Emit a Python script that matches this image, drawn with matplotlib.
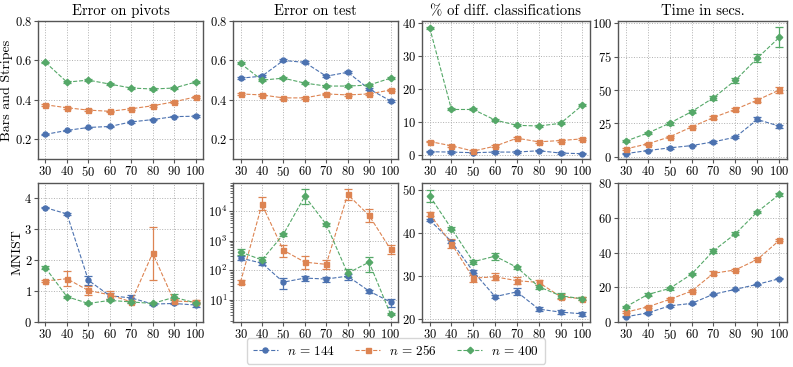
import matplotlib
matplotlib.use("Agg")
import matplotlib.pyplot as plt
from matplotlib.lines import Line2D
import numpy as np

plt.rcParams['font.family'] = 'serif'
plt.rcParams['font.serif'] = ['cmr10', 'DejaVu Serif']
plt.rcParams['mathtext.fontset'] = 'cm'
plt.rcParams['axes.formatter.use_mathtext'] = True
plt.rcParams['axes.unicode_minus'] = False

x = [30, 40, 50, 60, 70, 80, 90, 100]
labels = ["$n \\,=\\, 144$", "$n \\,=\\, 256$", "$n \\,=\\, 400$"]
colors = ["#4C72B0", "#DD8452", "#55A868"]
markers = ["o", "s", "D"]
col_titles = ["Error on pivots", "Error on test", "% of diff. classifications", "Time in secs."]
row_labels = ["Bars and Stripes", "MNIST"]

# ---- Bars and Stripes ----
bs_piv = [[0.225, 0.245, 0.26, 0.265, 0.288, 0.30, 0.315, 0.317],
          [0.375, 0.36, 0.348, 0.342, 0.355, 0.37, 0.39, 0.415],
          [0.59, 0.49, 0.50, 0.48, 0.46, 0.455, 0.46, 0.49]]
bs_piv_err = [[0.004] * 8, [0.004] * 8, [0.004] * 8]
bs_test = [[0.51, 0.52, 0.60, 0.59, 0.52, 0.54, 0.455, 0.395],
           [0.43, 0.425, 0.41, 0.41, 0.43, 0.425, 0.43, 0.45],
           [0.585, 0.50, 0.51, 0.485, 0.47, 0.47, 0.475, 0.51]]
bs_test_err = [[0.005] * 8, [0.005] * 8, [0.005] * 8]
bs_diff = [[1.0, 0.9, 0.7, 0.9, 0.9, 1.3, 0.6, 0.4],
           [4.1, 2.8, 1.2, 2.7, 5.1, 4.0, 4.4, 4.9],
           [38.6, 13.8, 13.8, 10.6, 9.0, 8.8, 9.6, 15.1]]
bs_diff_err = [[0.2] * 8, [0.3] * 8, [0.3] * 8]
bs_time = [[2.5, 4.8, 6.8, 8.5, 11.3, 14.8, 28.0, 23.0],
           [6.0, 9.8, 15.0, 22.4, 29.5, 35.6, 42.5, 50.0],
           [11.8, 17.8, 25.2, 33.8, 44.2, 57.3, 73.8, 89.3]]
bs_time_err = [[0.6, 0.6, 0.6, 0.6, 0.8, 0.8, 1.5, 1.2],
               [0.8, 0.8, 0.9, 1.0, 1.4, 1.2, 1.2, 2.0],
               [0.8, 0.8, 1.0, 1.2, 1.6, 2.0, 3.0, 7.5]]

# ---- MNIST ----
mn_piv = [[3.7, 3.5, 1.35, 0.85, 0.78, 0.58, 0.6, 0.55],
          [1.33, 1.4, 1.02, 0.88, 0.65, 2.23, 0.68, 0.65],
          [1.75, 0.82, 0.6, 0.7, 0.65, 0.6, 0.8, 0.62]]
mn_piv_err = [[0.02, 0.02, 0.15, 0.1, 0.1, 0.03, 0.03, 0.05],
              [0.03, 0.25, 0.15, 0.12, 0.04, 0.86, 0.05, 0.05],
              [0.05, 0.03, 0.03, 0.03, 0.03, 0.03, 0.1, 0.03]]
mn_test = [[260, 176, 40, 55, 51, 64, 20, 8.5],
           [40, 17000, 480, 190, 160, 37000, 7200, 520],
           [420, 225, 1650, 32000, 3600, 80, 190, 3.3]]
mn_test_lo = [[40, 20, 16, 12, 10, 18, 2.5, 2.5],
              [6, 6000, 200, 80, 45, 13000, 3000, 170],
              [90, 40, 250, 14000, 400, 18, 100, 0.3]]
mn_test_hi = [[40, 20, 16, 12, 10, 12, 2.5, 2.0],
              [6, 13000, 250, 110, 60, 18000, 4500, 200],
              [100, 60, 250, 23000, 500, 30, 90, 0.3]]
mn_diff = [[43.0, 38.0, 31.0, 25.2, 26.3, 22.3, 21.6, 21.2],
           [44.4, 37.5, 29.5, 29.8, 28.9, 28.5, 25.2, 24.7],
           [48.6, 41.0, 33.3, 34.6, 32.0, 27.5, 25.4, 24.7]]
mn_diff_err = [[0.2, 0.4, 0.4, 0.3, 0.8, 0.4, 0.5, 0.4],
               [0.4, 1.0, 0.8, 0.8, 0.8, 0.6, 0.6, 0.4],
               [1.4, 0.4, 0.5, 0.8, 0.4, 0.5, 0.6, 0.3]]
mn_time = [[3.0, 5.2, 9.3, 10.7, 16.0, 18.8, 21.7, 24.9],
           [5.6, 8.7, 13.0, 17.8, 28.0, 30.0, 36.0, 47.0],
           [8.7, 15.8, 19.3, 27.5, 41.0, 50.8, 63.4, 73.4]]
mn_time_err = [[0.4] * 8, [0.6, 0.6, 0.6, 0.6, 1.2, 0.6, 0.6, 0.6],
               [0.6, 0.8, 0.6, 0.6, 1.2, 0.8, 0.6, 0.6]]

fig = plt.figure(figsize=(7.93, 3.67), dpi=100)
W, H = 793.0, 367.0
lefts = [38, 233, 422, 618]
rights = [203, 398, 590, 787]
rows_y = [(21, 159), (183, 322)]

axes = []
for r in range(2):
    row = []
    for c in range(4):
        y0, y1 = rows_y[r]
        ax = fig.add_axes([lefts[c] / W, 1 - y1 / H, (rights[c] - lefts[c]) / W, (y1 - y0) / H])
        row.append(ax)
    axes.append(row)

def style(ax):
    ax.grid(True, which='major', linestyle=':', color='#b0b0b0', linewidth=0.7)
    for s in ax.spines.values():
        s.set_color('#555555')
        s.set_linewidth(1.0)
    ax.tick_params(labelsize=9, length=3, width=0.8, color='#555555', pad=1.2)
    ax.set_xticks(x)
    ax.set_xlim(26.5, 103.5)

def eb(ax, ys, err, i):
    ax.errorbar(x, ys, yerr=err, color=colors[i], marker=markers[i],
                markersize=3.6 if markers[i] != 'D' else 3.3, linestyle='--', linewidth=0.8,
                elinewidth=0.9, capsize=3, capthick=0.9)

def plot_series(ax, ys, errs):
    for i in range(3):
        eb(ax, ys[i], errs[i], i)

bs_data = [(bs_piv, bs_piv_err), (bs_test, bs_test_err), (bs_diff, bs_diff_err), (bs_time, bs_time_err)]
for c in range(4):
    ax = axes[0][c]
    plot_series(ax, *bs_data[c])
    style(ax)
    ax.set_title(col_titles[c], fontsize=10.5, pad=4)

axes[0][0].set_ylim(0.1, 0.8); axes[0][0].set_yticks([0.2, 0.4, 0.6, 0.8])
axes[0][1].set_ylim(0.1, 0.8); axes[0][1].set_yticks([0.2, 0.4, 0.6, 0.8])
axes[0][2].set_ylim(-1.2, 40.6); axes[0][2].set_yticks([0, 10, 20, 30, 40])
axes[0][3].set_ylim(-1.5, 101.5); axes[0][3].set_yticks([0, 25, 50, 75, 100])

plot_series(axes[1][0], mn_piv, mn_piv_err)
style(axes[1][0]); axes[1][0].set_ylim(0, 4.5); axes[1][0].set_yticks([0, 1, 2, 3, 4])

ax = axes[1][1]
for i in range(3):
    eb(ax, mn_test[i], [mn_test_lo[i], mn_test_hi[i]], i)
ax.set_yscale('log')
style(ax)
ax.set_ylim(1.8, 9e4)
ax.tick_params(which='minor', length=2, width=0.6, color='#555555')

plot_series(axes[1][2], mn_diff, mn_diff_err)
style(axes[1][2]); axes[1][2].set_ylim(19.3, 51.6); axes[1][2].set_yticks([20, 30, 40, 50])

plot_series(axes[1][3], mn_time, mn_time_err)
style(axes[1][3]); axes[1][3].set_ylim(0, 80); axes[1][3].set_yticks([0, 20, 40, 60, 80])

axes[0][0].set_ylabel(row_labels[0], fontsize=10)
axes[0][0].yaxis.set_label_coords(-0.15, 0.5)
axes[1][0].set_ylabel(row_labels[1], fontsize=10)
axes[1][0].yaxis.set_label_coords(-0.085, 0.5)

handles = [Line2D([], [], color=colors[i], marker=markers[i], linestyle='--', linewidth=0.8,
                  markersize=3.6 if markers[i] != 'D' else 3.3) for i in range(3)]
fig.legend(handles, labels, loc='center', bbox_to_anchor=(396 / W, 1 - 351 / H), ncol=3,
           fontsize=9.5, frameon=True, fancybox=True, edgecolor='#cccccc', columnspacing=1.5,
           handlelength=1.9, borderpad=0.45, numpoints=1, handletextpad=0.7)

fig.savefig("out.png", dpi=100)
